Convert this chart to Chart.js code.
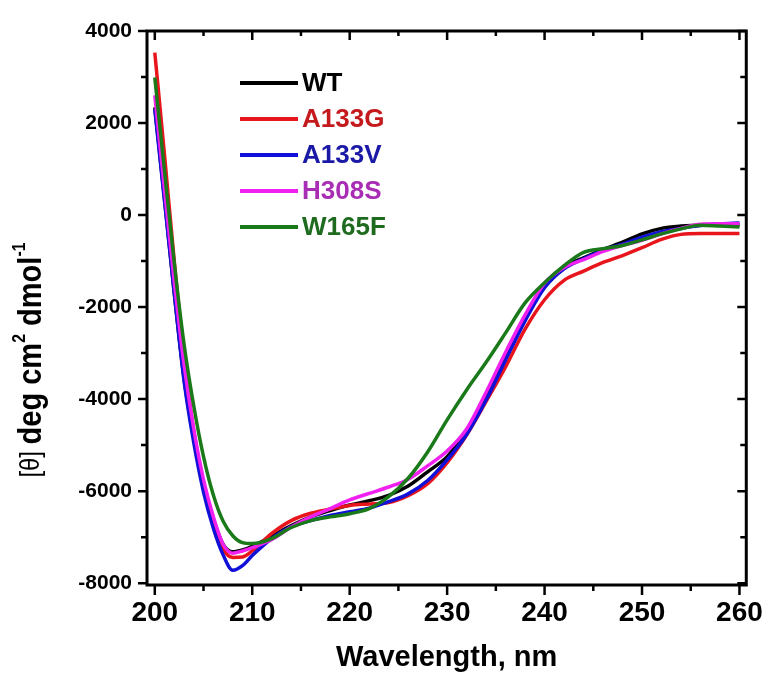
<!DOCTYPE html>
<html>
<head>
<meta charset="utf-8">
<title>CD spectra</title>
<script src="https://cdn.jsdelivr.net/npm/chart.js@4.4.1/dist/chart.umd.min.js"></script>
<style>
  html, body { margin: 0; padding: 0; background: #fff; }
  #wrap { width: 774px; height: 691px; }
</style>
</head>
<body>
<div id="wrap"><canvas id="myChart"></canvas></div>
<script>
'use strict';

// values

let wavelengths = [200, 201, 202, 203, 204, 205, 206, 207, 208, 209, 210, 212, 214, 216, 218, 220, 222, 224, 226, 228,
  230, 232, 234, 236, 238, 240, 242, 244, 246, 248, 250, 252, 254, 256, 258, 260];

let wtValues = [2340, 350, -1700, -3550, -4850, -5850, -6600, -7150, -7320, -7280, -7200, -6980, -6750, -6560, -6420, -6300,
  -6210, -6090, -5890, -5580, -5250, -4700, -3950, -3050, -2250, -1530, -1130, -930, -750, -590, -410, -290, -240, -220, -220, -220];
let a133gValues = [3530, 1300, -1000, -3050, -4700, -5850, -6650, -7250, -7440, -7430, -7300, -6920, -6640, -6480, -6390, -6310,
  -6280, -6250, -6100, -5840, -5380, -4780, -4050, -3300, -2480, -1840, -1420, -1220, -1030, -880, -710, -530, -420, -400, -400, -400];
let a133vValues = [2300, 300, -1700, -3600, -4950, -6020, -6800, -7380, -7720, -7620, -7400, -7030, -6770, -6640, -6530, -6450,
  -6370, -6230, -6060, -5770, -5320, -4770, -4020, -3150, -2300, -1580, -1170, -950, -760, -630, -480, -360, -290, -230, -190, -170];
let h308sValues = [2600, 550, -1450, -3250, -4650, -5750, -6550, -7150, -7350, -7300, -7230, -7050, -6780, -6560, -6380, -6190,
  -6050, -5910, -5740, -5450, -5130, -4650, -3850, -2980, -2170, -1480, -1140, -970, -790, -660, -550, -410, -290, -200, -190, -190];
let w165fValues = [2990, 950, -1050, -2800, -4150, -5250, -6080, -6650, -6970, -7120, -7140, -7030, -6790, -6640, -6560, -6490,
  -6380, -6120, -5720, -5150, -4450, -3800, -3200, -2560, -1910, -1470, -1100, -810, -730, -660, -540, -410, -300, -220, -240, -260];

let seriesNames = ['WT', 'A133G', 'A133V', 'H308S', 'W165F'];
let seriesValues = [wtValues, a133gValues, a133vValues, h308sValues, w165fValues];
let lineColors = ['#000000', '#e8161c', '#1010d8', '#f020f0', '#1a7a1a'];
let textColors = ['#000000', '#c41a1e', '#1a1aa6', '#a82cb4', '#1e6a1e'];

let xTickValues = [200, 205, 210, 215, 220, 225, 230, 235, 240, 245, 250, 255, 260];
let yTickValues = [-8000, -7000, -6000, -5000, -4000, -3000, -2000, -1000, 0, 1000, 2000, 3000, 4000];

let fontFamily = "'Liberation Sans', Arial, sans-serif";

// plugins

let framePlugin = {
  id: 'frame',
  afterDatasetsDraw(chart) {
    let ctx = chart.ctx;
    let area = chart.chartArea;
    let xs = chart.scales.x;
    let ys = chart.scales.y;
    ctx.save();
    ctx.strokeStyle = '#000';
    ctx.lineWidth = 3;
    ctx.strokeRect(area.left, area.top, area.right - area.left, area.bottom - area.top);
    ctx.lineWidth = 2.5;
    ctx.beginPath();
    xTickValues.forEach(function (v) {
      let px = xs.getPixelForValue(v);
      let big = v % 10 === 0;
      ctx.moveTo(px, area.bottom);
      ctx.lineTo(px, area.bottom + (big ? 10 : 6));
      ctx.moveTo(px, area.top);
      ctx.lineTo(px, area.top + (big ? 9 : 5));
    });
    yTickValues.forEach(function (v) {
      let py = ys.getPixelForValue(v);
      let big = v % 2000 === 0;
      ctx.moveTo(area.left, py);
      ctx.lineTo(area.left - (big ? 9 : 6), py);
      ctx.moveTo(area.right, py);
      ctx.lineTo(area.right - (big ? 9 : 6), py);
    });
    ctx.stroke();
    ctx.restore();
  }
};

let legendPlugin = {
  id: 'insideLegend',
  afterDatasetsDraw(chart) {
    let ctx = chart.ctx;
    let area = chart.chartArea;
    let x0 = area.left + 93;
    let y0 = area.top + 52;
    ctx.save();
    ctx.font = 'bold 26px ' + fontFamily;
    ctx.textBaseline = 'middle';
    seriesNames.forEach(function (name, i) {
      let y = y0 + i * 36;
      ctx.strokeStyle = lineColors[i];
      ctx.lineWidth = 4;
      ctx.beginPath();
      ctx.moveTo(x0, y);
      ctx.lineTo(x0 + 58, y);
      ctx.stroke();
      ctx.fillStyle = textColors[i];
      ctx.fillText(name, x0 + 62, y + 1);
    });
    ctx.restore();
  }
};

// y title has mixed weights and superscripts, so it is drawn by hand
let yTitlePlugin = {
  id: 'yTitle',
  afterDraw(chart) {
    let ctx = chart.ctx;
    let area = chart.chartArea;
    let parts = [
      { text: '[θ] ', font: '27px ' + fontFamily, dy: 0 },
      { text: 'deg cm', font: 'bold 33px ' + fontFamily, dy: 0 },
      { text: '2', font: 'bold 18px ' + fontFamily, dy: -12 },
      { text: ' dmol', font: 'bold 33px ' + fontFamily, dy: 0 },
      { text: '-1', font: 'bold 18px ' + fontFamily, dy: -12 }
    ];
    ctx.save();
    let total = 0;
    parts.forEach(function (p) {
      ctx.font = p.font;
      p.w = ctx.measureText(p.text).width * 0.88;
      total += p.w;
    });
    ctx.translate(30, (area.top + area.bottom) / 2 + 52);
    ctx.rotate(-Math.PI / 2);
    ctx.scale(0.88, 1);
    ctx.fillStyle = '#000';
    ctx.textBaseline = 'middle';
    let x = -total / 2 / 0.88;
    parts.forEach(function (p) {
      ctx.font = p.font;
      ctx.fillText(p.text, x, p.dy + 2);
      x += p.w / 0.88;
    });
    ctx.restore();
  }
};

// chart

function renderChart() {
  let ctx = document.getElementById('myChart').getContext('2d');

  let datasets = seriesNames.map(function (name, i) {
    return {
      label: name,
      data: wavelengths.map(function (w, j) { return { x: w, y: seriesValues[i][j] }; }),
      borderColor: lineColors[i],
      borderWidth: 3.5,
      pointRadius: 0,
      fill: false,
      cubicInterpolationMode: 'monotone',
      order: seriesNames.length - i
    };
  });

  new Chart(ctx, {
    type: 'line',
    data: { datasets: datasets },
    options: {
      responsive: true,
      maintainAspectRatio: false,
      animation: false,
      devicePixelRatio: 1,
      layout: { padding: { top: 31, right: 16, left: 0, bottom: 0 } },
      plugins: {
        legend: { display: false },
        tooltip: { enabled: false }
      },
      scales: {
        x: {
          type: 'linear',
          min: 199.2,
          max: 260.7,
          afterBuildTicks: function (scale) {
            scale.ticks = xTickValues.map(function (v) { return { value: v }; });
          },
          afterFit: function (scale) { scale.height = 106; },
          grid: { display: false, drawTicks: false },
          border: { display: false },
          ticks: {
            autoSkip: false,
            maxRotation: 0,
            padding: 11,
            color: '#000',
            font: { family: fontFamily, size: 28, weight: 'bold' },
            callback: function (v) { return v % 10 === 0 ? v : ''; }
          },
          title: {
            display: true,
            text: 'Wavelength, nm',
            color: '#000',
            font: { family: fontFamily, size: 29, weight: 'bold' },
            padding: { top: 0, bottom: 16 }
          }
        },
        y: {
          type: 'linear',
          min: -8040,
          max: 4000,
          afterBuildTicks: function (scale) {
            scale.ticks = yTickValues.map(function (v) { return { value: v }; });
          },
          afterFit: function (scale) { scale.width = 147; },
          grid: { display: false, drawTicks: false },
          border: { display: false },
          ticks: {
            autoSkip: false,
            padding: 15,
            color: '#000',
            font: { family: fontFamily, size: 21, weight: 'bold' },
            callback: function (v) { return v % 2000 === 0 ? v : ''; }
          }
        }
      }
    },
    plugins: [framePlugin, legendPlugin, yTitlePlugin]
  });
}

renderChart();
</script>
</body>
</html>
